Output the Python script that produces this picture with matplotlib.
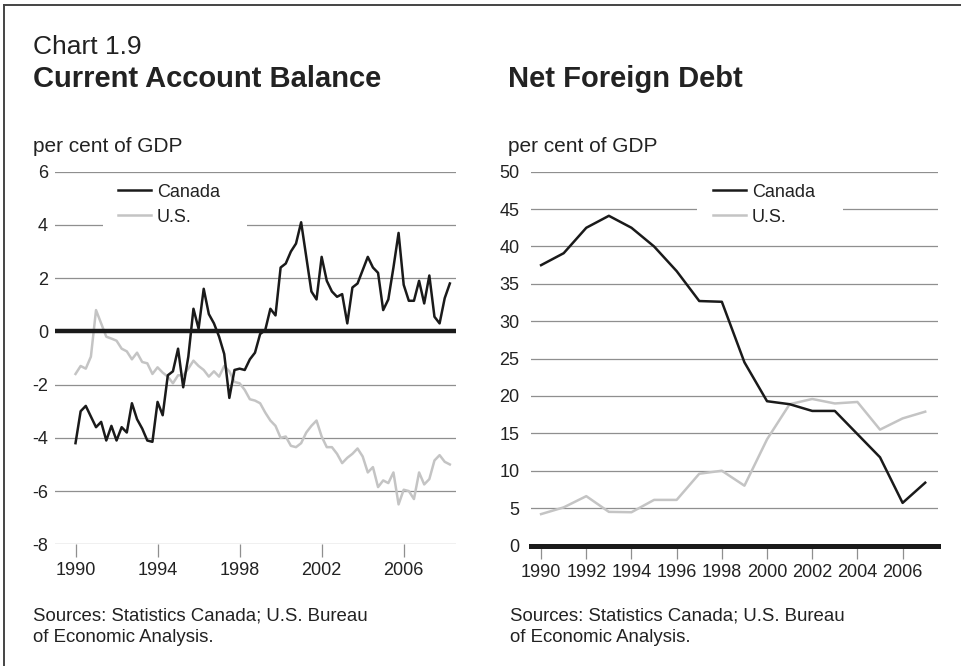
import numpy as np
import pandas as pd
import matplotlib.pyplot as plt
from matplotlib.lines import Line2D
from matplotlib.patches import Rectangle

W, H = 962, 666
plt.rcParams['font.family'] = ['Liberation Sans', 'DejaVu Sans']
plt.rcParams['axes.unicode_minus'] = False

# Current account balance, quarterly, per cent of GDP (1990Q1 - 2008Q2)
ca_quarters = pd.period_range('1990Q1', '2008Q2', freq='Q')
ca_canada = [
    -4.2, -3.0, -2.8, -3.2,
    -3.6, -3.4, -4.1, -3.55,
    -4.1, -3.6, -3.8, -2.7,
    -3.3, -3.65, -4.1, -4.15,
    -2.65, -3.15, -1.65, -1.5,
    -0.65, -2.1, -0.95, 0.85,
    0.1, 1.6, 0.65, 0.3,
    -0.2, -0.85, -2.5, -1.45,
    -1.4, -1.45, -1.05, -0.8,
    -0.1, 0.05, 0.85, 0.6,
    2.4, 2.55, 3.0, 3.3,
    4.1, 2.8, 1.5, 1.2,
    2.8, 1.9, 1.5, 1.3,
    1.4, 0.3, 1.65, 1.8,
    2.3, 2.8, 2.4, 2.2,
    0.8, 1.2, 2.4, 3.7,
    1.75, 1.15, 1.15, 1.9,
    1.05, 2.1, 0.55, 0.3,
    1.25, 1.8,
]
ca_us = [
    -1.6, -1.3, -1.4, -0.95,
    0.8, 0.3, -0.2, -0.27,
    -0.35, -0.65, -0.75, -1.05,
    -0.8, -1.15, -1.2, -1.6,
    -1.35, -1.55, -1.7, -1.95,
    -1.65, -1.65, -1.4, -1.1,
    -1.3, -1.45, -1.7, -1.5,
    -1.7, -1.3, -1.5, -1.9,
    -1.95, -2.2, -2.55, -2.6,
    -2.7, -3.05, -3.35, -3.55,
    -4.0, -3.95, -4.3, -4.35,
    -4.2, -3.8, -3.55, -3.35,
    -3.95, -4.35, -4.35, -4.6,
    -4.95, -4.75, -4.6, -4.4,
    -4.7, -5.3, -5.1, -5.85,
    -5.6, -5.7, -5.3, -6.5,
    -5.95, -6.0, -6.3, -5.3,
    -5.75, -5.55, -4.85, -4.65,
    -4.9, -5.0,
]

# Net foreign debt, annual, per cent of GDP
nfd_years = list(range(1990, 2008))
nfd_canada = [37.5, 39.1, 42.5, 44.1, 42.5, 40.0, 36.7, 32.7, 32.6, 24.5,
              19.3, 18.9, 18.0, 18.0, 14.9, 11.8, 5.7, 8.4]
nfd_us = [4.2, 5.1, 6.6, 4.5, 4.45, 6.1, 6.1, 9.6, 10.0, 8.0,
          14.2, 18.9, 19.6, 19.0, 19.2, 15.5, 17.0, 17.9]

ca_x = ca_quarters.year + (ca_quarters.quarter - 1) / 4

BLACK = '#1a1a1a'
GREY_LINE = '#c4c4c4'
GRID = '#8f8f8f'
TXT = '#222222'

fig = plt.figure(figsize=(W / 100, H / 100), dpi=100)


def fx(px):
    return px / W


def fy(py):
    return 1 - py / H


# frame (top and left edges only)
fig.add_artist(Line2D([fx(4), 1], [fy(5), fy(5)], color='#444444', lw=1.4))
fig.add_artist(Line2D([fx(4), fx(4)], [fy(5), 0], color='#444444', lw=1.4))

# headings
fig.text(fx(33), fy(54), 'Chart 1.9', fontsize=19, color=TXT, va='baseline')
fig.text(fx(33), fy(87), 'Current Account Balance', fontsize=21, fontweight='bold',
         color=TXT, va='baseline')
fig.text(fx(508), fy(87), 'Net Foreign Debt', fontsize=21, fontweight='bold',
         color=TXT, va='baseline')
fig.text(fx(33), fy(152.5), 'per cent of GDP', fontsize=15, color=TXT, va='baseline')
fig.text(fx(508), fy(152.5), 'per cent of GDP', fontsize=15, color=TXT, va='baseline')
for x0 in (33, 510):
    fig.text(fx(x0), fy(620.5), 'Sources: Statistics Canada; U.S. Bureau', fontsize=13.4,
             color=TXT, va='baseline')
    fig.text(fx(x0), fy(641.5), 'of Economic Analysis.', fontsize=13.4,
             color=TXT, va='baseline')

# ---- left: current account balance
ax1 = fig.add_axes([fx(55), fy(544.3), fx(456 - 55), (544.3 - 171.7) / H])
ax1.set_xlim(1989.0, 2008.55)
ax1.set_ylim(-8, 6)
ax1.set_yticks(range(-8, 7, 2))
ax1.set_xticks(range(1990, 2007, 4))
ax1.grid(axis='y', color=GRID, lw=0.9)
ax1.set_axisbelow(True)
for s in ax1.spines.values():
    s.set_visible(False)
ax1.tick_params(axis='y', length=0, pad=5, labelsize=13, labelcolor=TXT)
ax1.tick_params(axis='x', length=9, width=0.9, color=GRID, pad=4, labelsize=13,
                labelcolor=TXT)
ax1.axhline(0, color=BLACK, lw=3.2, zorder=3)
l_us, = ax1.plot(ca_x, ca_us, color=GREY_LINE, lw=1.8, label='U.S.', zorder=2)
l_ca, = ax1.plot(ca_x, ca_canada, color=BLACK, lw=1.8, label='Canada', zorder=2.5)
ax1.add_patch(Rectangle((0.12, 0.80), 0.36, 0.17, transform=ax1.transAxes,
                        facecolor='white', edgecolor='none', zorder=1))
ax1.legend(handles=[l_ca, l_us], loc='upper left', bbox_to_anchor=(0.157, 0.968),
           frameon=False, fontsize=13, borderpad=0, borderaxespad=0,
           handlelength=1.85, handletextpad=0.3, labelspacing=0.45,
           labelcolor=TXT)

# ---- right: net foreign debt
ax2 = fig.add_axes([fx(530.7), fy(545.5), fx(938.3 - 530.7), (545.5 - 171.7) / H])
ax2.set_xlim(1989.54, 2007.58)
ax2.set_ylim(0, 50)
ax2.set_yticks(range(0, 51, 5))
ax2.set_xticks(range(1990, 2007, 2))
ax2.grid(axis='y', color=GRID, lw=0.9)
ax2.set_axisbelow(True)
for s in ax2.spines.values():
    s.set_visible(False)
ax2.tick_params(axis='y', length=0, pad=8, labelsize=13, labelcolor=TXT)
ax2.tick_params(axis='x', length=9, width=0.9, color=GRID, pad=4, labelsize=13,
                labelcolor=TXT)
ax2.axhline(0, color=BLACK, lw=3.6, zorder=3, clip_on=False)
r_us, = ax2.plot(nfd_years, nfd_us, color=GREY_LINE, lw=1.8, label='U.S.', zorder=2)
r_ca, = ax2.plot(nfd_years, nfd_canada, color=BLACK, lw=1.8, label='Canada', zorder=2.5)
ax2.add_patch(Rectangle((0.408, 0.84), 0.358, 0.13, transform=ax2.transAxes,
                        facecolor='white', edgecolor='none', zorder=1))
ax2.legend(handles=[r_ca, r_us], loc='upper left', bbox_to_anchor=(0.447, 0.968),
           frameon=False, fontsize=13, borderpad=0, borderaxespad=0,
           handlelength=1.85, handletextpad=0.3, labelspacing=0.45,
           labelcolor=TXT)

fig.savefig('out.png', dpi=100)
